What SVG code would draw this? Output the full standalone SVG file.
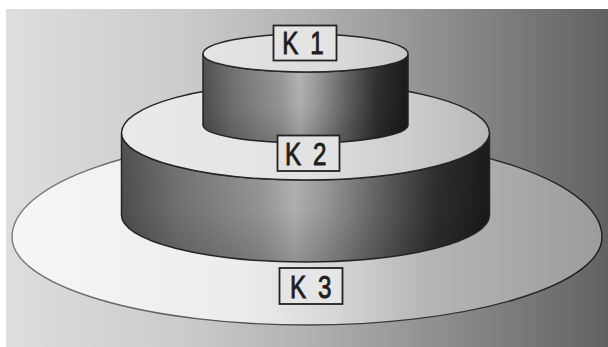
<svg xmlns="http://www.w3.org/2000/svg" width="608" height="347" viewBox="0 0 608 347">
  <defs>
    <linearGradient id="bg" x1="0" y1="0" x2="1" y2="0">
      <stop offset="0" stop-color="#dedede"/>
      <stop offset="0.3" stop-color="#cbcbcb"/>
      <stop offset="0.5" stop-color="#b2b2b2"/>
      <stop offset="0.75" stop-color="#8a8a8a"/>
      <stop offset="1" stop-color="#626262"/>
    </linearGradient>
    <linearGradient id="faceK3" x1="0" y1="0" x2="1" y2="0">
      <stop offset="0" stop-color="#f6f6f6"/>
      <stop offset="0.4" stop-color="#ececec"/>
      <stop offset="0.55" stop-color="#d6d6d6"/>
      <stop offset="0.7" stop-color="#b6b6b6"/>
      <stop offset="1" stop-color="#9c9c9c"/>
    </linearGradient>
    <linearGradient id="strokeK3" x1="0" y1="0" x2="1" y2="0">
      <stop offset="0" stop-color="#7a7a7a"/>
      <stop offset="0.5" stop-color="#444444"/>
      <stop offset="1" stop-color="#1a1a1a"/>
    </linearGradient>
    <linearGradient id="faceK2" x1="0" y1="0" x2="1" y2="0">
      <stop offset="0" stop-color="#eaeaea"/>
      <stop offset="0.5" stop-color="#e2e2e2"/>
      <stop offset="0.8" stop-color="#cbcbcb"/>
      <stop offset="1" stop-color="#b8b8b8"/>
    </linearGradient>
    <linearGradient id="faceK1" x1="0" y1="0" x2="1" y2="0">
      <stop offset="0" stop-color="#e4e4e4"/>
      <stop offset="0.6" stop-color="#dcdcdc"/>
      <stop offset="1" stop-color="#c8c8c8"/>
    </linearGradient>
    <linearGradient id="side" x1="0" y1="0" x2="1" y2="0">
      <stop offset="0" stop-color="#505050"/>
      <stop offset="0.15" stop-color="#747474"/>
      <stop offset="0.38" stop-color="#9a9a9a"/>
      <stop offset="0.47" stop-color="#b6b6b6"/>
      <stop offset="0.55" stop-color="#9e9e9e"/>
      <stop offset="0.7" stop-color="#646464"/>
      <stop offset="0.85" stop-color="#303030"/>
      <stop offset="1" stop-color="#1a1a1a"/>
    </linearGradient>
    <linearGradient id="sideShade" x1="0" y1="0" x2="0" y2="1">
      <stop offset="0" stop-color="#000000" stop-opacity="0"/>
      <stop offset="0.6" stop-color="#000000" stop-opacity="0.05"/>
      <stop offset="1" stop-color="#000000" stop-opacity="0.2"/>
    </linearGradient>
    <style>
      .edge { stroke: #262626; stroke-width: 1.5; }
      .box { stroke: #222222; stroke-width: 1.8; }
      .lbl { font-family: "Liberation Sans", Arial, sans-serif; font-size: 31px; fill: #1e1e1e; stroke: #1e1e1e; stroke-width: 0.9; letter-spacing: 3.3px; }
    </style>
  </defs>

  <rect x="0" y="0" width="608" height="347" fill="#ffffff"/>
  <rect x="6" y="9" width="602" height="338" fill="url(#bg)"/>

  <g id="connectors"/>

  <g id="node-k3">
    <path d="M 12 237 A 295 100 0 0 1 602 237 A 295 88 0 0 1 12 237 Z" fill="url(#faceK3)" stroke="url(#strokeK3)" stroke-width="1.4"/>
    <rect class="box" x="279.5" y="268" width="63" height="36" fill="#e6e6e6"/>
    <text class="lbl" transform="translate(290 297.5) scale(0.78 1)">K 3</text>
  </g>

  <g id="node-k2">
    <path d="M 121.5 133 L 121.5 215 A 184 47 0 0 0 489.5 215 L 489.5 133 A 184 47 0 0 1 121.5 133 Z" fill="url(#side)" class="edge"/>
    <path d="M 121.5 133 L 121.5 215 A 184 47 0 0 0 489.5 215 L 489.5 133 A 184 47 0 0 1 121.5 133 Z" fill="url(#sideShade)"/>
    <path d="M 121.5 133 A 184 50 0 0 1 489.5 133 A 184 47 0 0 1 121.5 133 Z" fill="url(#faceK2)" class="edge"/>
  </g>

  <g id="node-k1">
    <path d="M 203 54 L 203 125 A 102.5 18 0 0 0 408 125 L 408 54 A 102.5 18 0 0 1 203 54 Z" fill="url(#side)" class="edge"/>
    <path d="M 203 54 L 203 125 A 102.5 18 0 0 0 408 125 L 408 54 A 102.5 18 0 0 1 203 54 Z" fill="url(#sideShade)"/>
    <path d="M 203 54 A 102.5 20 0 0 1 408 54 A 102.5 18 0 0 1 203 54 Z" fill="url(#faceK1)" class="edge"/>
    <rect class="box" x="273.5" y="25.5" width="63" height="35" fill="#e4e4e4"/>
    <text class="lbl" transform="translate(282.3 54) scale(0.78 1)">K 1</text>
  </g>

  <g id="label-k2">
    <rect class="box" x="277.5" y="135.5" width="62" height="35.5" fill="#e2e2e2"/>
    <text class="lbl" transform="translate(285 165) scale(0.78 1)">K 2</text>
  </g>
</svg>
